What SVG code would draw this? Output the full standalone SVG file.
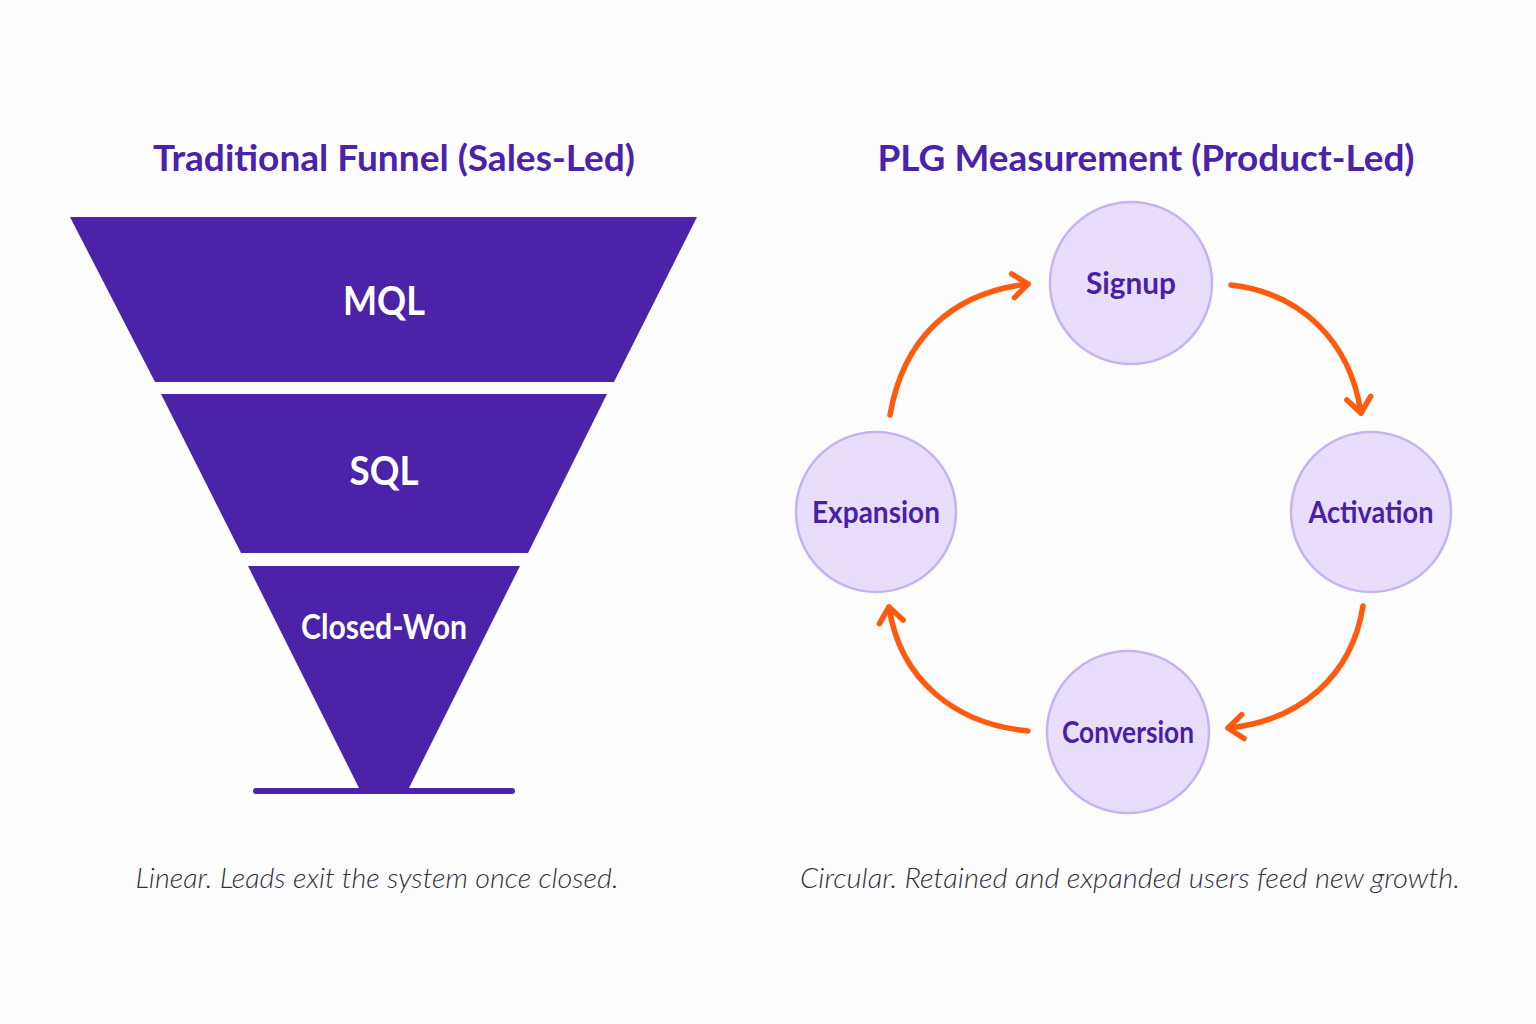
<svg xmlns="http://www.w3.org/2000/svg" width="1536" height="1024" viewBox="0 0 1536 1024">
<style>
.title{font-family:Lato,"Open Sans","Liberation Sans",sans-serif;font-weight:700;font-size:37px;fill:#4B22AA;text-anchor:middle}
.seg{fill:#4A23A9}
.seglbl{font-family:Lato,"Open Sans","Liberation Sans",sans-serif;font-weight:700;fill:#FFFFFF;text-anchor:middle}
.node{fill:#E8DEFC;stroke:#C6B4F1;stroke-width:2.5}
.nlbl{font-family:Lato,"Open Sans","Liberation Sans",sans-serif;font-weight:700;font-size:30px;fill:#4A1FA8;text-anchor:middle}
.conn{fill:none;stroke:#FF5A0D;stroke-width:5.5;stroke-linecap:round;marker-end:url(#chev)}
.cap{font-family:Lato,"Open Sans","Liberation Sans",sans-serif;font-style:italic;font-weight:300;font-size:27px;fill:#34323F;text-anchor:middle}
</style>
<defs>
<marker id="chev" markerUnits="userSpaceOnUse" markerWidth="40" markerHeight="40" refX="0" refY="0" viewBox="-20 -20 40 40" orient="auto" overflow="visible">
<path d="M-15,-12 L0,0 L-15,12" fill="none" stroke="#FF5A0D" stroke-width="5.5" stroke-linecap="round" stroke-linejoin="round"/>
</marker>
</defs>
<rect width="1536" height="1024" fill="#FDFDFE"/>

<text class="title" x="394" y="171" textLength="482" lengthAdjust="spacingAndGlyphs">Traditional Funnel (Sales-Led)</text>
<text class="title" x="1146" y="171" textLength="537" lengthAdjust="spacingAndGlyphs">PLG Measurement (Product-Led)</text>

<g id="mql">
<polygon class="seg" points="70,217 697,217 614,382 155,382"/>
<text class="seglbl" x="384" y="315" font-size="40" textLength="82" lengthAdjust="spacingAndGlyphs">MQL</text>
</g>
<g id="sql">
<polygon class="seg" points="161,394 607,394 528,553 241,553"/>
<text class="seglbl" x="384" y="485" font-size="40" textLength="69" lengthAdjust="spacingAndGlyphs">SQL</text>
</g>
<g id="closed-won">
<polygon class="seg" points="248,566 520,566 408,790 360,790"/>
<text class="seglbl" x="384" y="639" font-size="35" textLength="166" lengthAdjust="spacingAndGlyphs">Closed-Won</text>
</g>
<g id="base">
<rect class="seg" x="253" y="788" width="262" height="6" rx="3"/>
</g>

<g id="signup">
<circle class="node" cx="1131" cy="283" r="81"/>
<text class="nlbl" x="1131" y="294" textLength="90" lengthAdjust="spacingAndGlyphs">Signup</text>
</g>
<g id="activation">
<circle class="node" cx="1371" cy="512" r="80"/>
<text class="nlbl" x="1371" y="523" textLength="125" lengthAdjust="spacingAndGlyphs">Activation</text>
</g>
<g id="conversion">
<circle class="node" cx="1128" cy="732" r="81"/>
<text class="nlbl" x="1128" y="743" textLength="132" lengthAdjust="spacingAndGlyphs">Conversion</text>
</g>
<g id="expansion">
<circle class="node" cx="876" cy="512" r="80"/>
<text class="nlbl" x="876" y="523" textLength="128" lengthAdjust="spacingAndGlyphs">Expansion</text>
</g>

<g id="connectors">
<path class="conn" d="M890,415 C903,340 950,293 1028,284"/>
<path class="conn" d="M1231,285 C1300,293 1350,340 1361,413"/>
<path class="conn" d="M1363,606 C1352,676 1300,721 1228,728"/>
<path class="conn" d="M1028,731 C955,724 900,680 889,607"/>
</g>

<text class="cap" x="377" y="888" textLength="483" lengthAdjust="spacingAndGlyphs">Linear. Leads exit the system once closed.</text>
<text class="cap" x="1130" y="888" textLength="660" lengthAdjust="spacingAndGlyphs">Circular. Retained and expanded users feed new growth.</text>
</svg>
